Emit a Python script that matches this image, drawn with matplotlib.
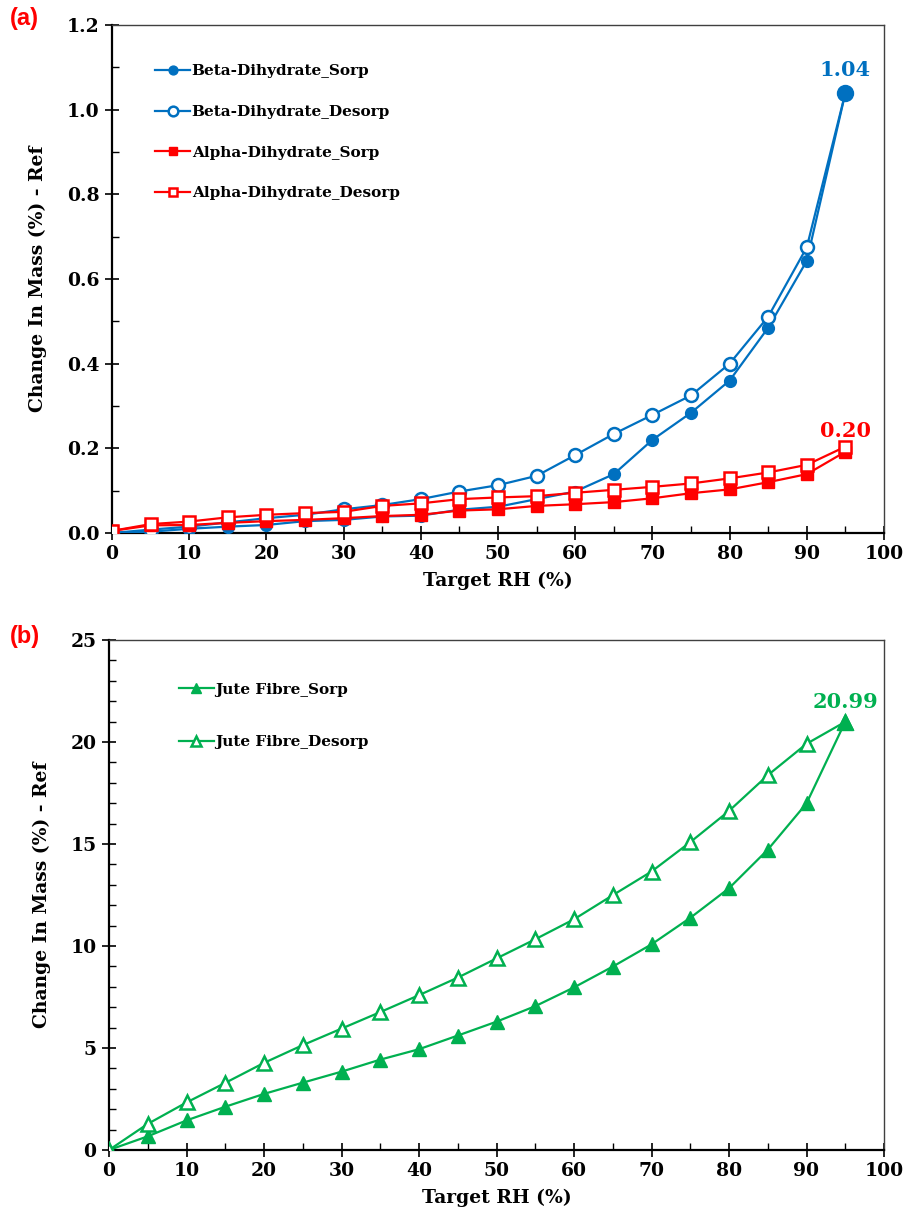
import matplotlib
matplotlib.use("Agg")
import matplotlib.pyplot as plt
from matplotlib.ticker import MultipleLocator

rh = [0, 5, 10, 15, 20, 25, 30, 35, 40, 45, 50, 55, 60, 65, 70, 75, 80, 85, 90, 95]

beta_sorp = [0.0, 0.003, 0.010, 0.015, 0.019, 0.028, 0.031, 0.039, 0.041, 0.055, 0.062, 0.080,
             0.098, 0.139, 0.220, 0.284, 0.360, 0.485, 0.643, 1.04]
beta_desorp = [0.0, 0.008, 0.015, 0.025, 0.035, 0.043, 0.056, 0.066, 0.080, 0.098, 0.113, 0.135,
               0.184, 0.234, 0.279, 0.325, 0.400, 0.511, 0.675, 1.04]
alpha_sorp = [0.005, 0.018, 0.019, 0.024, 0.028, 0.031, 0.035, 0.040, 0.043, 0.053, 0.056, 0.064,
              0.068, 0.073, 0.082, 0.094, 0.103, 0.120, 0.139, 0.192]
alpha_desorp = [0.005, 0.021, 0.027, 0.037, 0.043, 0.047, 0.050, 0.064, 0.070, 0.080, 0.084, 0.087,
                0.095, 0.102, 0.109, 0.117, 0.129, 0.143, 0.161, 0.204]

jute_sorp = [0.0, 0.67, 1.45, 2.12, 2.75, 3.30, 3.84, 4.43, 4.94, 5.61, 6.29, 7.05, 7.97, 8.99,
             10.08, 11.38, 12.83, 14.72, 16.99, 20.99]
jute_desorp = [0.0, 1.28, 2.33, 3.29, 4.27, 5.14, 5.95, 6.76, 7.59, 8.45, 9.39, 10.33, 11.31,
               12.49, 13.65, 15.09, 16.62, 18.37, 19.91, 20.99]

labels_a = ["Beta-Dihydrate_Sorp", "Beta-Dihydrate_Desorp",
            "Alpha-Dihydrate_Sorp", "Alpha-Dihydrate_Desorp"]
labels_b = ["Jute Fibre_Sorp", "Jute Fibre_Desorp"]

BLUE = "#0070C0"
RED = "#FF0000"
GREEN = "#00B050"
SERIF = "DejaVu Serif"

plt.rcParams["font.family"] = [SERIF]
plt.rcParams["font.weight"] = "bold"
plt.rcParams["axes.labelweight"] = "bold"

fig = plt.figure(figsize=(9.07, 12.27), dpi=100)
W, H = 907, 1227

def make_ax(left, right, top, bottom):
    return fig.add_axes([left / W, 1 - bottom / H, (right - left) / W, (bottom - top) / H])

axa = make_ax(112, 884, 25, 533)
axb = make_ax(109, 884, 640, 1150)

def style(ax, ymax, ymaj, ymin, yfmt):
    ax.set_xlim(0, 100)
    ax.set_ylim(0, ymax)
    ax.xaxis.set_major_locator(MultipleLocator(10))
    ax.xaxis.set_minor_locator(MultipleLocator(5))
    ax.yaxis.set_major_locator(MultipleLocator(ymaj))
    ax.yaxis.set_minor_locator(MultipleLocator(ymin))
    ax.tick_params(which="major", direction="inout", length=10, width=1.2, color="black",
                   labelsize=13.5, pad=4)
    ax.tick_params(which="minor", direction="in", length=5, width=1.0, color="black")
    ax.tick_params(top=False, right=False, which="both")
    for s in ["left", "bottom"]:
        ax.spines[s].set_linewidth(1.6)
        ax.spines[s].set_color("black")
    for s in ["top", "right"]:
        ax.spines[s].set_linewidth(1.0)
        ax.spines[s].set_color("#404040")
    ax.yaxis.set_major_formatter(plt.FuncFormatter(lambda v, p: yfmt.format(v)))
    ax.set_xlabel("Target RH (%)", fontweight="bold", fontsize=13.5, labelpad=6)
    ax.set_ylabel("Change In Mass (%) - Ref", fontweight="bold", fontsize=13.5, labelpad=14)

# Panel (a)
lw = 1.6
axa.plot(rh, beta_sorp, color=BLUE, lw=lw, marker="o", ms=8.5, mfc=BLUE, mec=BLUE,
         label=labels_a[0], zorder=3)
axa.plot(rh, beta_desorp, color=BLUE, lw=lw, marker="o", ms=9.3, mfc="white", mec=BLUE, mew=1.8,
         label=labels_a[1], zorder=3)
axa.plot(rh[-1:], beta_sorp[-1:], ls="none", marker="o", ms=11.5, color=BLUE, zorder=4)
axa.plot(rh, alpha_sorp, color=RED, lw=lw, marker="s", ms=8, mfc=RED, mec=RED,
         label=labels_a[2], zorder=5)
axa.plot(rh, alpha_desorp, color=RED, lw=lw, marker="s", ms=8.3, mfc="white", mec=RED, mew=1.8,
         label=labels_a[3], zorder=5)
style(axa, 1.2, 0.2, 0.1, "{:.1f}")
axa.annotate("{:.2f}".format(beta_sorp[-1]), (rh[-1], beta_sorp[-1]), xytext=(0, 9),
             textcoords="offset points", ha="center", va="bottom", color=BLUE,
             fontweight="bold", fontsize=15)
axa.annotate("{:.2f}".format(alpha_desorp[-1]), (rh[-1], alpha_desorp[-1]), xytext=(0, 4),
             textcoords="offset points", ha="center", va="bottom", color=RED,
             fontweight="bold", fontsize=15)
axa.legend(loc="upper left", bbox_to_anchor=(0.038, 0.95), frameon=False,
           prop={"family": SERIF, "weight": "bold", "size": 11},
           labelspacing=1.75, handlelength=2.3, handletextpad=0.1, markerscale=0.75)

# Panel (b)
axb.plot(rh, jute_sorp, color=GREEN, lw=lw, marker="^", ms=9.5, mfc=GREEN, mec=GREEN,
         label=labels_b[0], zorder=3)
axb.plot(rh, jute_desorp, color=GREEN, lw=lw, marker="^", ms=9.5, mfc="white", mec=GREEN, mew=1.8,
         label=labels_b[1], zorder=3)
axb.plot(rh[-1:], jute_sorp[-1:], ls="none", marker="^", ms=11, color=GREEN, zorder=4)
style(axb, 25, 5, 1, "{:.0f}")
axb.annotate("{:.2f}".format(jute_sorp[-1]), (rh[-1], jute_sorp[-1]), xytext=(0, 7),
             textcoords="offset points", ha="center", va="bottom", color=GREEN,
             fontweight="bold", fontsize=15)
axb.legend(loc="upper left", bbox_to_anchor=(0.072, 0.943), frameon=False,
           prop={"family": SERIF, "weight": "bold", "size": 11},
           labelspacing=2.5, handlelength=2.3, handletextpad=0.1, markerscale=0.75)

fig.text(10 / W, 1 - 18 / H, "(a)", color=RED, fontfamily="Liberation Sans", fontweight="bold",
         fontsize=17, va="center", ha="left")
fig.text(10 / W, 1 - 637 / H, "(b)", color=RED, fontfamily="Liberation Sans", fontweight="bold",
         fontsize=17, va="center", ha="left")

fig.savefig("out.png", dpi=100)
